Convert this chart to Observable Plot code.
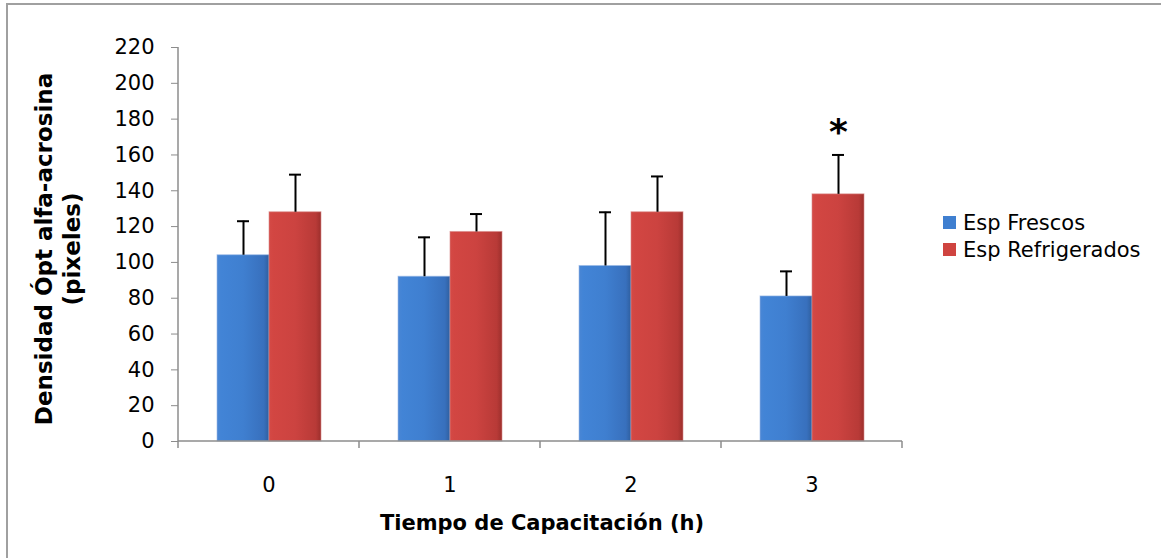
<!DOCTYPE html>
<html>
<head>
<meta charset="utf-8">
<script src="https://cdn.jsdelivr.net/npm/d3@7"></script>
<script src="https://cdn.jsdelivr.net/npm/@observablehq/plot@0.6"></script>
<style>
  html, body { margin: 0; padding: 0; background: #fff; }
  #wrap { position: relative; width: 1161px; height: 558px; overflow: hidden; font-family: "DejaVu Sans", sans-serif; }
  #frame { position: absolute; left: 6px; top: 3px; right: -10px; bottom: -10px; border-left: 2px solid #a0a0a0; border-top: 2px solid #a0a0a0; }
  #chart { position: absolute; left: 0; top: 0; }
  .ytitle { position: absolute; left: 58px; top: 249px; width: 0; height: 0; }
  .ytitle div { position: absolute; transform: translate(-50%, -50%) rotate(-90deg); white-space: nowrap; text-align: center; font: bold 23px "DejaVu Sans", sans-serif; line-height: 28px; color: #000; }
  .xtitle { position: absolute; left: 542px; top: 523px; transform: translate(-50%, -50%); white-space: nowrap; font: bold 21px "DejaVu Sans", sans-serif; color: #000; }
  .legend { position: absolute; left: 943px; top: 209px; font: 21px "DejaVu Sans", sans-serif; color: #000; }
  .legend .item { display: flex; align-items: center; height: 27px; }
  .legend .sw { width: 13px; height: 13px; margin-right: 7px; box-sizing: border-box; }
</style>
</head>
<body>
<div id="wrap">
  <div id="frame"></div>
  <div id="chart"></div>
  <div class="ytitle"><div>Densidad Ópt alfa-acrosina<br>(pixeles)</div></div>
  <div class="xtitle">Tiempo de Capacitación (h)</div>
  <div class="legend" id="legend"></div>
</div>
<script>
// ---- data ----
const categories = ["0", "1", "2", "3"];
const seriesNames = ["Esp Frescos", "Esp Refrigerados"];
const frescos = [104, 92, 98, 81];
const frescosErr = [19, 22, 30, 14];
const refrigerados = [128, 117, 128, 138];
const refrigeradosErr = [21, 10, 20, 22];
const yTicks = [0, 20, 40, 60, 80, 100, 120, 140, 160, 180, 200, 220];
const significant = [{cat: "3", series: "Esp Refrigerados", label: "*"}];

const seriesFill = {"Esp Frescos": "url(#gBlue)", "Esp Refrigerados": "url(#gRed)"};
const seriesSwatch = {"Esp Frescos": "#3f7fd0", "Esp Refrigerados": "#cf4440"};

const rows = [];
categories.forEach((c, i) => {
  rows.push({cat: c, series: seriesNames[0], value: frescos[i], err: frescosErr[i]});
  rows.push({cat: c, series: seriesNames[1], value: refrigerados[i], err: refrigeradosErr[i]});
});
const sigRows = significant.map(s => {
  const r = rows.find(d => d.cat === s.cat && d.series === s.series);
  return {...s, top: r.value + r.err};
});

const plot = Plot.plot({
  width: 1161,
  height: 558,
  marginLeft: 177,
  marginRight: 258,
  marginTop: 47,
  marginBottom: 117,
  style: {fontFamily: "DejaVu Sans, sans-serif", fontSize: "21px", color: "#000", background: "transparent"},
  fx: {domain: categories, paddingInner: 0, paddingOuter: 0, label: null, axis: null},
  x: {domain: seriesNames, paddingInner: 0, paddingOuter: 0.7255, axis: null},
  y: {domain: [0, 220], label: null, axis: null},
  marks: [
    Plot.axisY({ticks: yTicks, tickSize: 7, tickPadding: 17, label: null, stroke: "#8c8c8c", strokeOpacity: 1, fontSize: 21, fill: "#000"}),
    Plot.axisFx({anchor: "bottom", tickSize: 0, tickPadding: 36, label: null, fontSize: 21, fill: "#000"}),
    Plot.barY(rows, {fx: "cat", x: "series", y: "value", fill: d => seriesFill[d.series], stroke: d => d.series === seriesNames[0] ? "#9ab9e6" : "#d98a88", strokeWidth: 1, strokeOpacity: 0.6}),
    Plot.ruleX(rows, {fx: "cat", x: "series", y1: "value", y2: d => d.value + d.err, stroke: "#000", strokeWidth: 2}),
    Plot.tickY(rows, {fx: "cat", x: "series", y: d => d.value + d.err, stroke: "#000", strokeWidth: 2, insetLeft: 20, insetRight: 20}),
    Plot.text(sigRows, {fx: "cat", x: "series", y: "top", text: "label", dy: -22, fontSize: 36, fontWeight: "bold", fill: "#000"})
  ]
});

// gradients for the bars
const svg = d3.select(plot);
const defs = svg.insert("defs", ":first-child");
function grad(id, stops) {
  const g = defs.append("linearGradient").attr("id", id).attr("x1", "0").attr("x2", "1").attr("y1", "0").attr("y2", "0");
  stops.forEach(([o, c]) => g.append("stop").attr("offset", o).attr("stop-color", c));
}
grad("gBlue", [[0, "#4a86d4"], [0.08, "#4284d6"], [0.5, "#3f7fd0"], [0.9, "#3870bd"], [1, "#2f5f9f"]]);
grad("gRed", [[0, "#d44a46"], [0.08, "#d24642"], [0.5, "#cc4340"], [0.9, "#b83a37"], [1, "#9c2f2c"]]);

// axis lines and category boundary ticks, using the plot's own scales
const fx = plot.scale("fx");
const y = plot.scale("y");
const y0 = y.apply(0), yTop = y.apply(220);
const left = fx.apply(categories[0]);
const step = fx.step;
const axisG = svg.append("g").attr("stroke", "#8c8c8c").attr("stroke-width", 1.5);
axisG.append("line").attr("x1", left).attr("x2", left).attr("y1", yTop).attr("y2", y0 + 7);
axisG.append("line").attr("x1", left).attr("x2", left + step * categories.length).attr("y1", y0).attr("y2", y0);
for (let i = 1; i <= categories.length; i++) {
  const bx = left + step * i;
  axisG.append("line").attr("x1", bx).attr("x2", bx).attr("y1", y0).attr("y2", y0 + 7);
}

document.getElementById("chart").appendChild(plot);

// legend
const leg = document.getElementById("legend");
seriesNames.forEach(s => {
  const item = document.createElement("div");
  item.className = "item";
  const sw = document.createElement("span");
  sw.className = "sw";
  sw.style.background = seriesSwatch[s];
  const t = document.createElement("span");
  t.textContent = s;
  item.appendChild(sw); item.appendChild(t);
  leg.appendChild(item);
});
</script>
</body>
</html>
